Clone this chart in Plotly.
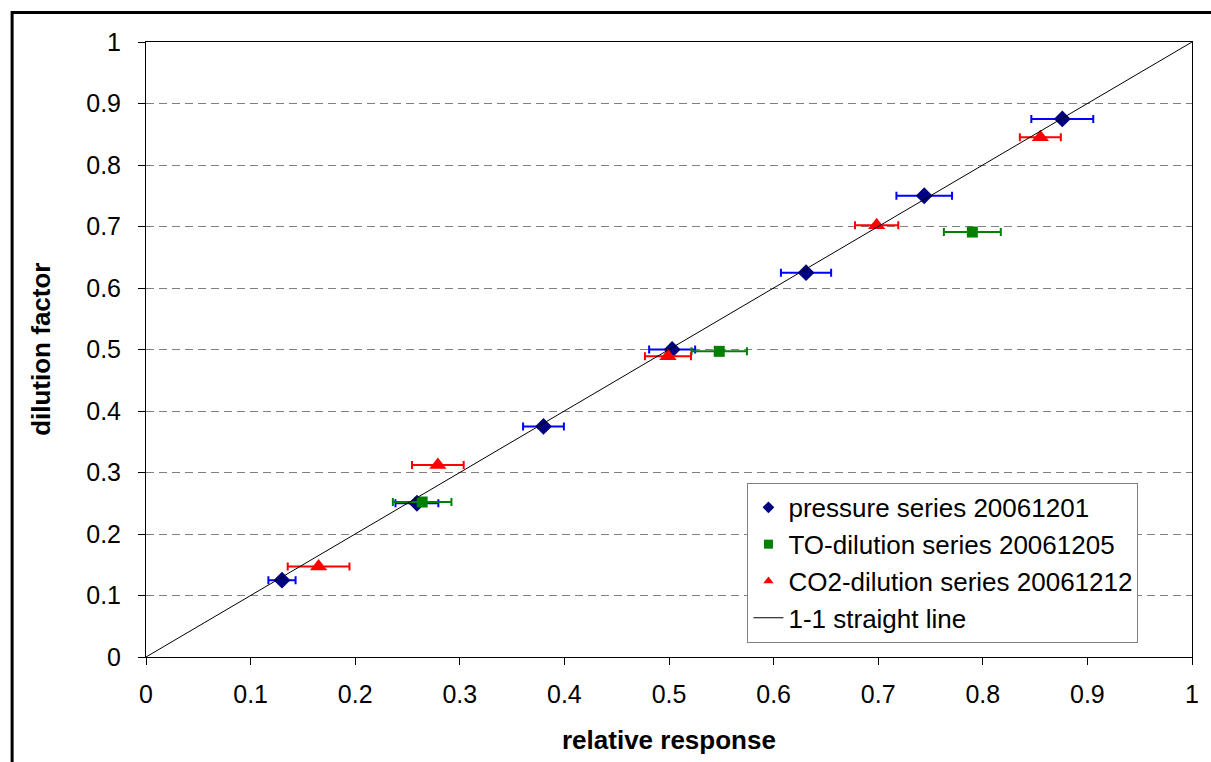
import plotly.graph_objects as go

# Pressure series 20061201
pressure_x = [0.130, 0.259, 0.380, 0.503, 0.631, 0.744, 0.876]
pressure_y = [0.125, 0.250, 0.375, 0.500, 0.625, 0.750, 0.875]
pressure_err = [0.013, 0.0205, 0.0195, 0.022, 0.024, 0.0266, 0.0296]

# TO-dilution series 20061205
to_x = [0.264, 0.548, 0.790]
to_y = [0.252, 0.497, 0.691]
to_err = [0.028, 0.0265, 0.0272]

# CO2-dilution series 20061212
co2_x = [0.165, 0.279, 0.499, 0.6985, 0.855]
co2_y = [0.147, 0.312, 0.489, 0.702, 0.845]
co2_err = [0.0295, 0.0247, 0.022, 0.0207, 0.0196]

# 1-1 reference line
line_x = [0, 1]
line_y = [0, 1]

tick_vals = [0, 0.1, 0.2, 0.3, 0.4, 0.5, 0.6, 0.7, 0.8, 0.9, 1]
tick_text = ["0", "0.1", "0.2", "0.3", "0.4", "0.5", "0.6", "0.7", "0.8", "0.9", "1"]

FONT = "Liberation Sans, Arial, sans-serif"

series = [
    dict(x=pressure_x, y=pressure_y, err=pressure_err,
         name="pressure series 20061201", symbol="diamond", size=13,
         color="#000080", errcolor="#0000FF"),
    dict(x=to_x, y=to_y, err=to_err,
         name="TO-dilution series 20061205", symbol="square", size=11,
         color="#008000", errcolor="#008000"),
    dict(x=co2_x, y=co2_y, err=co2_err,
         name="CO2-dilution series 20061212", symbol="triangle-up", size=15,
         color="#FF0000", errcolor="#FF0000"),
]

fig = go.Figure()

# data points with horizontal error bars
for s in series:
    fig.add_trace(go.Scatter(
        x=s["x"], y=s["y"], mode="markers", name=s["name"],
        marker=dict(symbol=s["symbol"], size=s["size"], color=s["color"]),
        error_x=dict(type="data", array=s["err"], color=s["errcolor"],
                     thickness=2, width=4),
        showlegend=False,
    ))

fig.add_trace(go.Scatter(
    x=line_x, y=line_y, mode="lines", name="1-1 straight line",
    line=dict(color="black", width=1), showlegend=False,
))

# legend entries (smaller symbols than on the plot)
for s in series:
    fig.add_trace(go.Scatter(
        x=[None], y=[None], mode="markers", name=s["name"],
        marker=dict(symbol=s["symbol"], size=9, color=s["color"]),
    ))
fig.add_trace(go.Scatter(
    x=[None], y=[None], mode="lines", name="1-1 straight line",
    line=dict(color="black", width=1),
))

axis_common = dict(
    range=[0, 1],
    tickvals=tick_vals,
    ticktext=tick_text,
    ticks="outside",
    ticklen=7,
    tickcolor="black",
    tickwidth=1,
    showline=True,
    linecolor="black",
    linewidth=1,
    mirror=True,
    zeroline=False,
    tickfont=dict(family=FONT, size=25, color="black"),
)

fig.update_xaxes(**axis_common, showgrid=False, ticklabelstandoff=8)
fig.update_yaxes(**axis_common, showgrid=True, gridcolor="#808080",
                 gridwidth=1, griddash="8px,5px", ticklabelstandoff=12)

fig.update_layout(
    width=1211, height=762,
    margin=dict(l=146, r=19, t=42, b=105),
    paper_bgcolor="white",
    plot_bgcolor="white",
    font=dict(family=FONT, color="black"),
    showlegend=True,
    legend=dict(
        x=0.575, y=0.283, xanchor="left", yanchor="top",
        bgcolor="white", bordercolor="#808080", borderwidth=1,
        font=dict(family=FONT, size=26, color="black"),
        tracegroupgap=0, itemwidth=30,
    ),
    annotations=[
        dict(text="<b>relative response</b>", xref="paper", yref="paper",
             x=0.5, y=-0.135, xanchor="center", yanchor="middle",
             showarrow=False, font=dict(family=FONT, size=26, color="black")),
        dict(text="<b>dilution factor</b>", xref="paper", yref="paper",
             x=-0.101, y=0.5, xanchor="center", yanchor="middle",
             textangle=-90, showarrow=False,
             font=dict(family=FONT, size=26, color="black")),
    ],
    shapes=[
        # outer chart frame
        dict(type="rect", xref="paper", yref="paper",
             x0=-0.128, x1=1.2, y0=-0.3, y1=1.048,
             line=dict(color="black", width=3), fillcolor="rgba(0,0,0,0)",
             layer="above"),
    ],
)

fig.write_html("out.html")
